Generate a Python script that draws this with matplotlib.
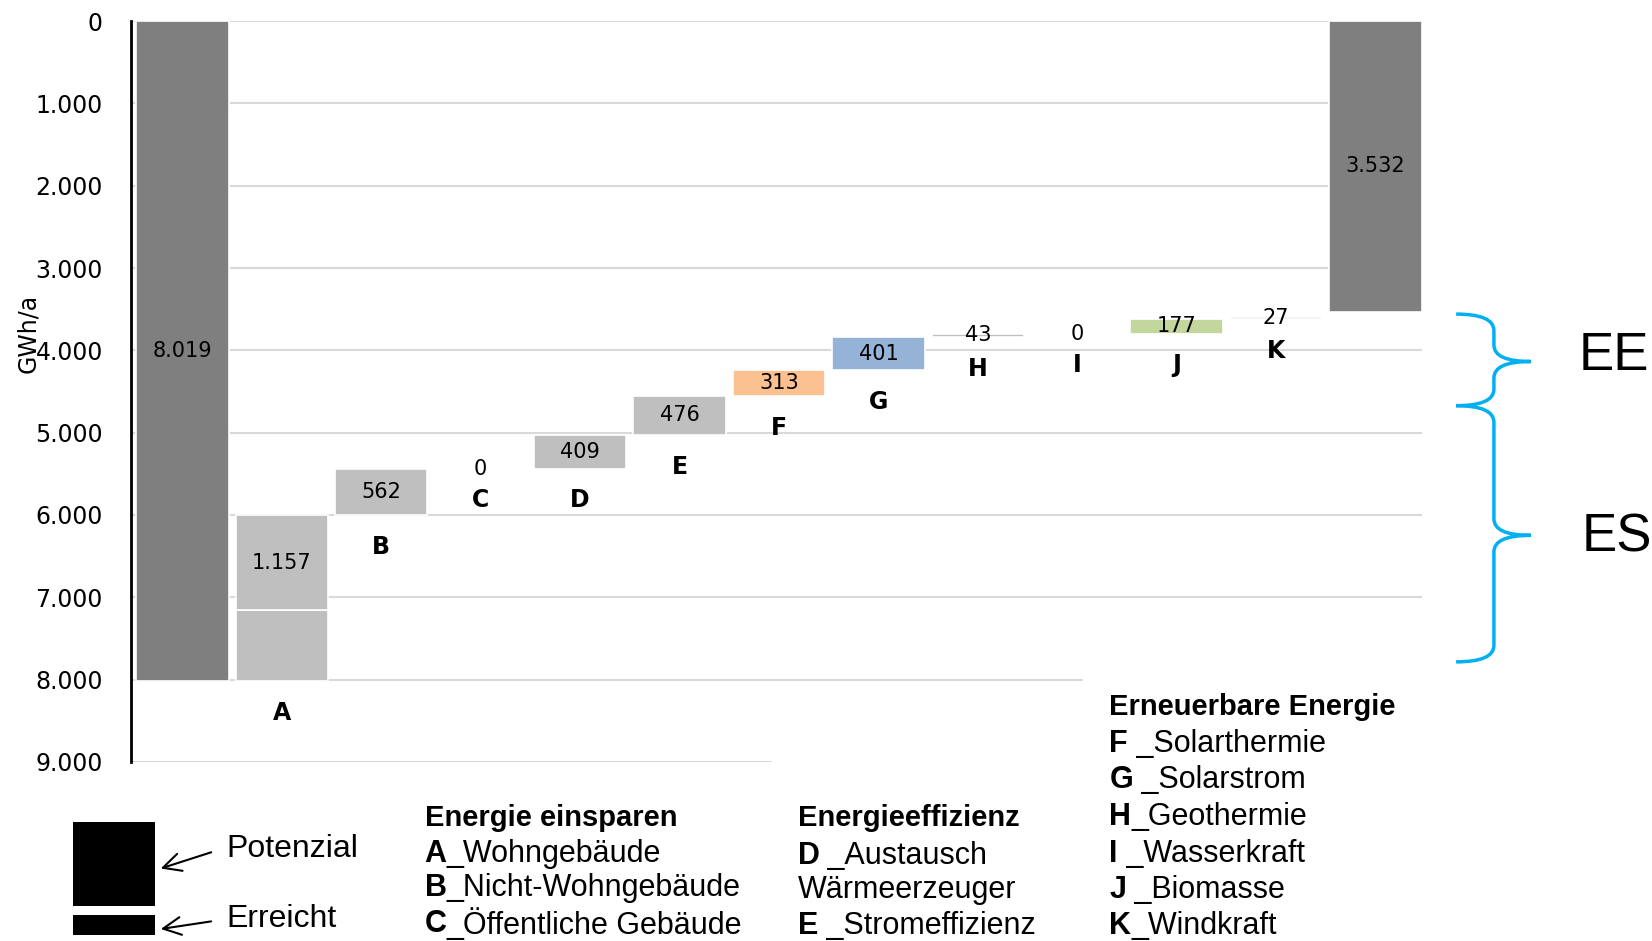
import matplotlib
matplotlib.use("Agg")
import matplotlib.pyplot as plt
import matplotlib.patches as mpatches
from matplotlib.path import Path
from matplotlib.text import Annotation
from matplotlib import font_manager
import numpy as np

# Daten (GWh/a)
start_total = 8019
end_total = 3532
kategorien = ['A', 'B', 'C', 'D', 'E', 'F', 'G', 'H', 'I', 'J', 'K']
potenzial = [1157, 562, 0, 409, 476, 313, 401, 43, 0, 177, 27]
erreicht = [862, 0, 0, 0, 0, 0, 0, 0, 0, 0, 0]
farben = ['#bfbfbf', '#bfbfbf', '#bfbfbf', '#bfbfbf', '#bfbfbf',
          '#fac090', '#95b3d7', '#bfbfbf', '#bfbfbf', '#c3d69b', '#bfbfbf']
y_ticks = list(range(0, 9001, 1000))

legende_es = ('Energie einsparen',
              [('A', '_Wohngebäude'), ('B', '_Nicht-Wohngebäude'), ('C', '_Öffentliche Gebäude')])
legende_eff = ('Energieeffizienz',
               [('D', ' _Austausch'), ('', 'Wärmeerzeuger'), ('E', ' _Stromeffizienz')])
legende_ee = ('Erneuerbare Energie',
              [('F', ' _Solarthermie'), ('G', ' _Solarstrom'), ('H', '_Geothermie'),
               ('I', ' _Wasserkraft'), ('J', ' _Biomasse'), ('K', '_Windkraft')])

verfuegbar = {f.name for f in font_manager.fontManager.ttflist}
schmal = 'Liberation Sans Narrow' if 'Liberation Sans Narrow' in verfuegbar else 'Liberation Sans'


def de(v):
    return f"{v:,}".replace(",", ".")


W, H = 1568, 893  # Koordinaten aus der Vorlage


def fx(px):
    return px / W


def fy(py):
    return 1 - py / H


fig = plt.figure(figsize=(16.52, 9.41), dpi=100)
ax = fig.add_axes([fx(124), fy(723), fx(1350) - fx(124), fy(20) - fy(723)])

bw = 0.93
kw = dict(width=bw, edgecolor='white', linewidth=1.2, zorder=2)
versatz = 385  # Abstand Buchstabe unter Balken

# Startbalken
ax.bar(0, start_total, color='#7f7f7f', **kw)
ax.text(0, start_total / 2, de(start_total), ha='center', va='center', fontsize=15)

level = start_total
for i, (k, p, e, c) in enumerate(zip(kategorien, potenzial, erreicht, farben)):
    xi = i + 1
    unten = level
    if e:
        ax.bar(xi, -e, bottom=level, color=c, **kw)
        level -= e
    if p:
        ax.bar(xi, -p, bottom=level, color=c, **kw)
        ax.text(xi, level - p / 2, de(p), ha='center', va='center', fontsize=15)
        level -= p
    else:
        ax.text(xi, level, de(p), ha='center', va='center', fontsize=15)
    ax.text(xi, unten + versatz, k, ha='center', va='center', fontsize=17, fontweight='bold')

# Endbalken
xe = len(kategorien) + 1
ax.bar(xe, end_total, color='#7f7f7f', **kw)
ax.text(xe, end_total / 2, de(end_total), ha='center', va='center', fontsize=15)

ax.set_xlim(-0.52, 12.47)
ax.set_ylim(9000, 0)
ax.set_yticks(y_ticks)
ax.set_yticklabels([de(t) for t in y_ticks], fontsize=17)
ax.tick_params(axis='y', length=0, pad=20)
ax.set_xticks([])
ax.yaxis.grid(True, color='#d9d9d9', linewidth=1.5, zorder=0)
ax.set_axisbelow(True)
for s in ['top', 'right', 'bottom']:
    ax.spines[s].set_visible(False)
ax.spines['left'].set_linewidth(2)
fig.text(fx(27), fy(316), 'GWh/a', rotation=90, ha='center', va='center', fontsize=17)


# geschweifte Klammern (EE / ES)
def klammer(y0, ym, y1, x0=12.81, x1=13.19, x2=13.56, r=200):
    verts = [(x0, y0), (x1, y0), (x1, y0 + r),
             (x1, ym - r), (x1, ym), (x2, ym),
             (x1, ym), (x1, ym + r),
             (x1, y1 - r), (x1, y1), (x0, y1)]
    codes = [Path.MOVETO, Path.CURVE3, Path.CURVE3,
             Path.LINETO, Path.CURVE3, Path.CURVE3,
             Path.CURVE3, Path.CURVE3,
             Path.LINETO, Path.CURVE3, Path.CURVE3]
    ax.add_patch(mpatches.PathPatch(Path(verts, codes), fill=False, edgecolor='#00b0f0',
                                    linewidth=2.5, clip_on=False, zorder=5))


klammer(3560, 4136, 4673)
klammer(4673, 6248, 7785)
fig.text(fx(1532), fy(338), 'EE', ha='center', va='center', fontsize=38, family='Liberation Sans')
fig.text(fx(1535), fy(510), 'ES', ha='center', va='center', fontsize=38, family='Liberation Sans')

# weisse Flaechen hinter den Legendentexten
fig.patches.append(mpatches.Rectangle((fx(733), 0), fx(1028) - fx(733), fy(715), transform=fig.transFigure,
                                      facecolor='white', edgecolor='none', zorder=3))
fig.patches.append(mpatches.Rectangle((fx(1028), 0), fx(1400) - fx(1028), fy(640), transform=fig.transFigure,
                                      facecolor='white', edgecolor='none', zorder=3))

# Legende Potenzial / Erreicht
fig.patches.append(mpatches.Rectangle((fx(69), fy(860)), fx(147) - fx(69), fy(780) - fy(860),
                                      transform=fig.transFigure, facecolor='black', zorder=4))
fig.patches.append(mpatches.Rectangle((fx(69), fy(887)), fx(147) - fx(69), fy(868) - fy(887),
                                      transform=fig.transFigure, facecolor='black', zorder=4))
for txt, yt, ya in [('Potenzial', 806, 825), ('Erreicht', 872, 882)]:
    fig.text(fx(215), fy(yt), txt, ha='left', va='center', fontsize=23, family=schmal, zorder=5)
    ax.annotate('', xy=(fx(150), fy(ya)), xytext=(fx(203), fy(yt + 2)),
                xycoords='figure fraction', textcoords='figure fraction',
                arrowprops=dict(arrowstyle='->', color='black', lw=1.5, mutation_scale=32),
                annotation_clip=False, zorder=5)


def legende(x, y_kopf, zeilen_y, gruppe):
    kopf, zeilen = gruppe
    fig.text(fx(x), fy(y_kopf), kopf, ha='left', va='center', fontsize=21, fontweight='bold',
             family=schmal, zorder=5)
    for (b, rest), yz in zip(zeilen, zeilen_y):
        if b:
            t = fig.text(fx(x), fy(yz), b, ha='left', va='center', fontsize=22, fontweight='bold',
                         family=schmal, zorder=5)
            fig.add_artist(Annotation(rest, xy=(1, 0.5), xycoords=t, va='center', ha='left',
                                      fontsize=22, family=schmal, zorder=5))
        else:
            fig.text(fx(x), fy(yz), rest, ha='left', va='center', fontsize=22, family=schmal, zorder=5)


legende(403, 776, [810, 843, 877], legende_es)
legende(757, 776, [812, 845, 879], legende_eff)
legende(1053, 671, [706, 740, 775, 810, 845, 879], legende_ee)

fig.savefig('out.png', dpi=100)
